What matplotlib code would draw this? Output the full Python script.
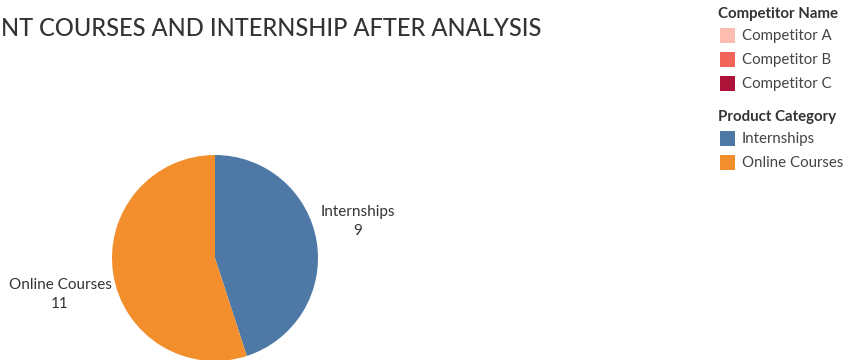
import matplotlib
matplotlib.use("Agg")
import matplotlib.pyplot as plt
from matplotlib.patches import Rectangle

# Data
categories = ["Internships", "Online Courses"]
counts = [9, 11]
cat_colors = ["#4e79a7", "#f28e2b"]

competitors = ["Competitor A", "Competitor B", "Competitor C"]
comp_colors = ["#fdbcb0", "#f1645a", "#ad1339"]

title = "NT COURSES AND INTERNSHIP AFTER ANALYSIS"

W, H = 846, 360
fig = plt.figure(figsize=(W / 100, H / 100), dpi=100)
fig.patch.set_facecolor("white")

FONT = ["Lato", "DejaVu Sans"]
TXT = "#333333"

def px(x, y):
    return x / W, 1 - y / H

# Title
fig.text(*px(1, 28), title, fontsize=17, color=TXT, family=FONT,
         weight="medium", va="center", ha="left")

# Pie
cx, cy, r = 215, 258, 103
ax = fig.add_axes([(cx - r) / W, (H - cy - r) / H, 2 * r / W, 2 * r / H])
ax.pie(counts, colors=cat_colors, startangle=90, counterclock=False,
       radius=1.0, wedgeprops=dict(linewidth=0))
ax.set_xlim(-1, 1)
ax.set_ylim(-1, 1)
ax.set_axis_off()

# Slice labels
LBL = 11
fig.text(*px(358, 212), f"{categories[0]}", fontsize=LBL, color=TXT,
         family=FONT, ha="center", va="center")
fig.text(*px(358, 231), f"{counts[0]}", fontsize=LBL, color=TXT,
         family=FONT, ha="center", va="center")
fig.text(*px(60, 285), f"{categories[1]}", fontsize=LBL, color=TXT,
         family=FONT, ha="center", va="center")
fig.text(*px(60, 304), f"{counts[1]}", fontsize=LBL, color=TXT,
         family=FONT, ha="center", va="center")

# Legends
def legend_block(y_title, heading, labels, colors):
    fig.text(*px(718, y_title), heading, fontsize=10.8, color=TXT,
             family=FONT, weight="bold", ha="left", va="center")
    for i, (lab, col) in enumerate(zip(labels, colors)):
        y = y_title + 22 + i * 24
        x0, y0 = px(720, y + 7)
        fig.add_artist(Rectangle((x0, y0), 15 / W, 15 / H, facecolor=col,
                                 edgecolor="none", transform=fig.transFigure))
        fig.text(*px(742, y), lab, fontsize=10.8, color="#444444",
                 family=FONT, ha="left", va="center")

legend_block(14, "Competitor Name", competitors, comp_colors)
legend_block(117, "Product Category", categories, cat_colors)

fig.savefig("out.png", dpi=100)
